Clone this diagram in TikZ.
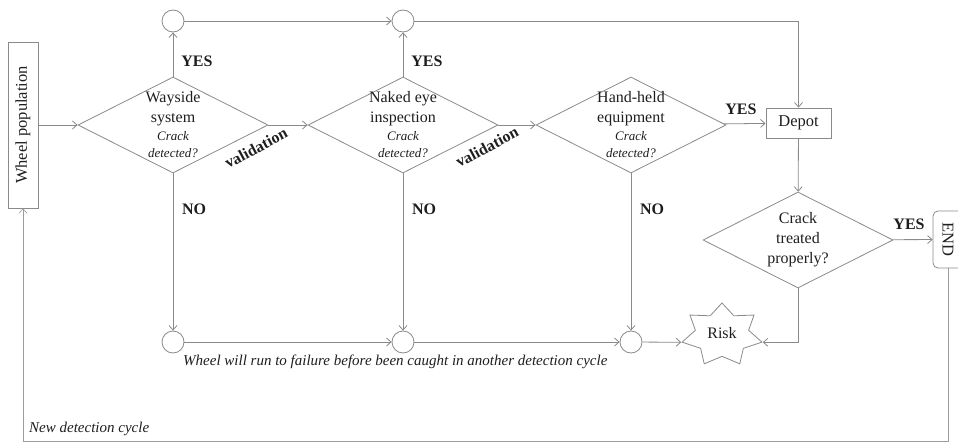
\documentclass[tikz,border=0pt]{standalone}
\usepackage{fontspec}
\setmainfont{Liberation Serif}
\usetikzlibrary{shapes.geometric,arrows.meta}
\definecolor{lc}{HTML}{8A8A8A}
\definecolor{tc}{HTML}{1E1E1E}
\newcommand\smit[1]{{\fontsize{13}{16}\selectfont\itshape #1}}
\begin{document}
\begin{tikzpicture}[x=1pt,y=-1pt,
  ln/.style={draw=lc, line width=0.8pt},
  arr/.style={ln, -{Straight Barb[length=4.5pt,width=8pt]}},
  loopln/.style={draw=lc!85, line width=0.6pt, -{Straight Barb[length=4.5pt,width=8pt]}},
  dia/.style={diamond, ln, minimum width=190pt, minimum height=96pt, inner sep=0pt},
  circ/.style={circle, ln, minimum size=22pt, inner sep=0pt},
  box/.style={rectangle, ln, inner sep=0pt, text=tc, font=\fontsize{16.5}{20}\selectfont},
  lab/.style={font=\fontsize{16}{20}\selectfont\bfseries, text=tc, inner sep=0pt},
  dtext/.style={align=center, font=\fontsize{16}{20}\selectfont, text=tc, inner sep=0pt},
  note/.style={font=\fontsize{15}{17}\selectfont\itshape, text=tc, inner sep=0pt},
  ]
\useasboundingbox (0,0) rectangle (958,444);
\clip (0,0) rectangle (958,444);

% main nodes
\node[box, minimum width=30pt, minimum height=166pt] (wheel) at (23,125) {\rotatebox{90}{Wheel population}};
\node[dia, label={[dtext]center:{Wayside\\system\\[-2pt]\smit{Crack}\\[-3pt]\smit{detected?}}}] (d1) at (173,125) {};
\node[dia, label={[dtext]center:{Naked eye\\inspection\\[-2pt]\smit{Crack}\\[-3pt]\smit{detected?}}}] (d2) at (403,125) {};
\node[dia, label={[dtext]center:{Hand-held\\equipment\\[-2pt]\smit{Crack}\\[-3pt]\smit{detected?}}}] (d3) at (631,125) {};
\node[box, minimum width=65pt, minimum height=30pt] (depot) at (798.5,123) {Depot};
\node[dia, label={[dtext]center:{Crack\\treated\\properly?}}] (d4) at (798,240) {};
\node[box, rounded corners=5pt, minimum width=30pt, minimum height=57pt] (end) at (948,239.5) {\rotatebox{-90}{END}};

% junction circles
\node[circ] (c1) at (173,21) {};
\node[circ] (c2) at (403,21) {};
\node[circ] (c3) at (173,342) {};
\node[circ] (c4) at (403,342) {};
\node[circ] (c5) at (631,342) {};

% risk star
\node[star, star points=7, star point ratio=1.5, ln, minimum size=64pt, inner sep=0pt,
      xscale=1.28, transform shape] (risk) at (722,335) {};
\node[text=tc, font=\fontsize{16}{20}\selectfont, inner sep=0pt] (risktxt) at (722,333) {Risk};

% connectors
\draw[arr] (wheel) -- (d1);
\draw[arr] (d1) -- (d2);
\draw[arr] (d2) -- (d3);
\draw[arr] (d3) -- (depot);
\draw[arr] (d1.north) -- (c1);
\draw[arr] (d2.north) -- (c2);
\draw[arr] (c1) -- (c2);
\draw[arr] (c2) -| (depot);
\draw[arr] (depot) -- (d4);
\draw[arr] (d4) -- (end);
\draw[arr] (d1.south) -- (c3);
\draw[arr] (d2.south) -- (c4);
\draw[arr] (d3.south) -- (c5);
\draw[arr] (c3) -- (c4);
\draw[arr] (c4) -- (c5);
\draw[arr] (c5) -- (risk.outer point 3);
\draw[arr] (d4.south) |- (risk.outer point 6);
\coordinate (lb) at (0,441);
\draw[loopln] (end.south) -- (end.south |- lb) -| (wheel.south);

% labels
\node[lab] (y1) at (197,61) {YES};
\node[lab] (y2) at (427,61) {YES};
\node[lab] (y3) at (741,109) {YES};
\node[lab] (y4) at (909,224) {YES};
\node[lab] (n1) at (194,209) {NO};
\node[lab] (n2) at (424,209) {NO};
\node[lab] (n3) at (652,209) {NO};
\node[lab, rotate=28] (v1) at (256,148) {validation};
\node[lab, rotate=28] (v2) at (487,147) {validation};
\node[note, anchor=west] (fail) at (183,362) {Wheel will run to failure before been caught in another detection cycle};
\node[note, anchor=west] (ndc) at (29,429) {New detection cycle};
\end{tikzpicture}
\end{document}
